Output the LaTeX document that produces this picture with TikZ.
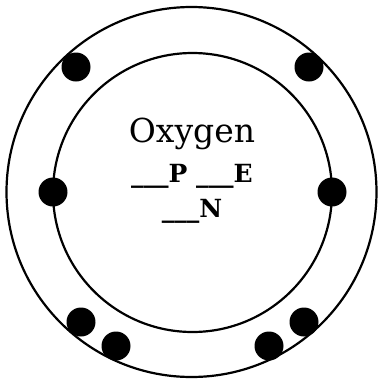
\documentclass[tikz,border=0pt]{standalone}
\usepackage{fontspec}
\setmainfont{DejaVu Serif}
\usetikzlibrary{positioning}

\begin{document}
\begin{tikzpicture}[x=1pt,y=-1pt,
  shell/.style={draw,line width=2.2pt},
  electron/.style={circle,fill=black,inner sep=0pt,minimum size=29pt}]
  \useasboundingbox (0,0) rectangle (378,381);
  % shells
  \draw[shell] (191.5,192) circle (185);
  \draw[shell] (192.5,192.5) circle (139.5);
  % electrons
  \foreach \name/\x/\y in {e1/76/67,e2/309/67,e3/53/192,e4/332/192,
                           e5/81/322,e6/116/346,e7/269/346,e8/304/322}
    \node[electron] (\name) at (\x,\y) {};
  % labels
  \node[font=\fontsize{33}{36}\selectfont,anchor=base] (elem) at (192,142) {Oxygen};
  \node[font=\fontsize{25}{28}\selectfont\bfseries,anchor=base] (pe) at (192,182) {\_\_\_P \_\_\_E};
  \node[font=\fontsize{25}{28}\selectfont\bfseries,anchor=base] (nn) at (192,217) {\_\_\_N};
\end{tikzpicture}
\end{document}
